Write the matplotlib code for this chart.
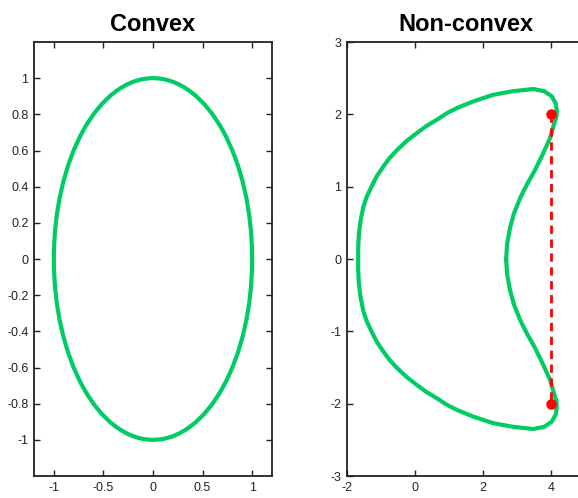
import matplotlib
matplotlib.use("Agg")
import matplotlib.pyplot as plt
from matplotlib.patches import Ellipse
import numpy as np

plt.rcParams['font.family'] = ['Liberation Sans', 'DejaVu Sans']
plt.rcParams['axes.unicode_minus'] = False

# convex shape: ellipse
ell_center = (0.0, 0.0)
ell_rx, ell_ry = 1.0, 1.0

# non-convex shape, upper half (mirrored for lower half)
nc_x = [2.68, 2.71, 2.79, 2.91, 3.09, 3.28, 3.53, 3.77, 3.97, 4.10, 4.16, 4.17, 4.14, 4.02,
        3.80, 3.48, 2.89, 2.30, 1.72, 1.25, 0.95, 0.66, 0.34, 0.05, -0.25, -0.52,
        -0.74, -0.93, -1.13, -1.28, -1.42, -1.52, -1.60, -1.65, -1.67, -1.67]
nc_y = [0.00, 0.21, 0.42, 0.63, 0.84, 1.02, 1.23, 1.46, 1.67, 1.88, 1.97, 2.05, 2.15, 2.25,
        2.32, 2.35, 2.32, 2.27, 2.18, 2.09, 2.02, 1.93, 1.84, 1.74, 1.63, 1.51,
        1.40, 1.28, 1.14, 1.00, 0.86, 0.72, 0.53, 0.35, 0.16, 0.00]

# chord showing non-convexity
chord_x = [4, 4]
chord_y = [2, -2]

green = '#00cc66'

fig = plt.figure(figsize=(5.78, 4.98), dpi=100)
ax1 = fig.add_axes([34/578, 1-476/498, 238/578, 434/498])
ax2 = fig.add_axes([347/578, 1-476/498, 238/578, 434/498])

ax1.add_patch(Ellipse(ell_center, 2*ell_rx, 2*ell_ry, fill=False, edgecolor=green, linewidth=3))
ax1.set_xlim(-1.2, 1.2)
ax1.set_ylim(-1.2, 1.2)
ax1.set_xticks([-1, -0.5, 0, 0.5, 1])
ax1.set_xticklabels(['-1', '-0.5', '0', '0.5', '1'])
yt = [-1, -0.8, -0.6, -0.4, -0.2, 0, 0.2, 0.4, 0.6, 0.8, 1]
ax1.set_yticks(yt)
ax1.set_yticklabels(['-1', '-0.8', '-0.6', '-0.4', '-0.2', '0', '0.2', '0.4', '0.6', '0.8', '1'])
ax1.set_title('Convex', fontsize=17, fontweight='bold', pad=8)

xs = np.array(nc_x + nc_x[::-1][1:])
ys = np.array(nc_y + [-v for v in nc_y[::-1][1:]])
ax2.plot(xs, ys, color=green, linewidth=3, solid_joinstyle='round')
ax2.plot(chord_x, chord_y, color='red', linestyle='--', linewidth=2, dashes=(3, 2))
ax2.plot(chord_x, chord_y, 'o', color='red', markersize=6.5)
ax2.set_xlim(-2, 5)
ax2.set_ylim(-3, 3)
ax2.set_xticks([-2, 0, 2, 4])
ax2.set_yticks([-3, -2, -1, 0, 1, 2, 3])
ax2.set_title('Non-convex', fontsize=17, fontweight='bold', pad=8)

for ax in (ax1, ax2):
    ax.tick_params(direction='in', top=True, right=True, length=4, width=1,
                   labelsize=9, pad=4, colors='#222222')
    for s in ax.spines.values():
        s.set_linewidth(1.3)
        s.set_color('#222222')

plt.savefig('out.png', dpi=100)
